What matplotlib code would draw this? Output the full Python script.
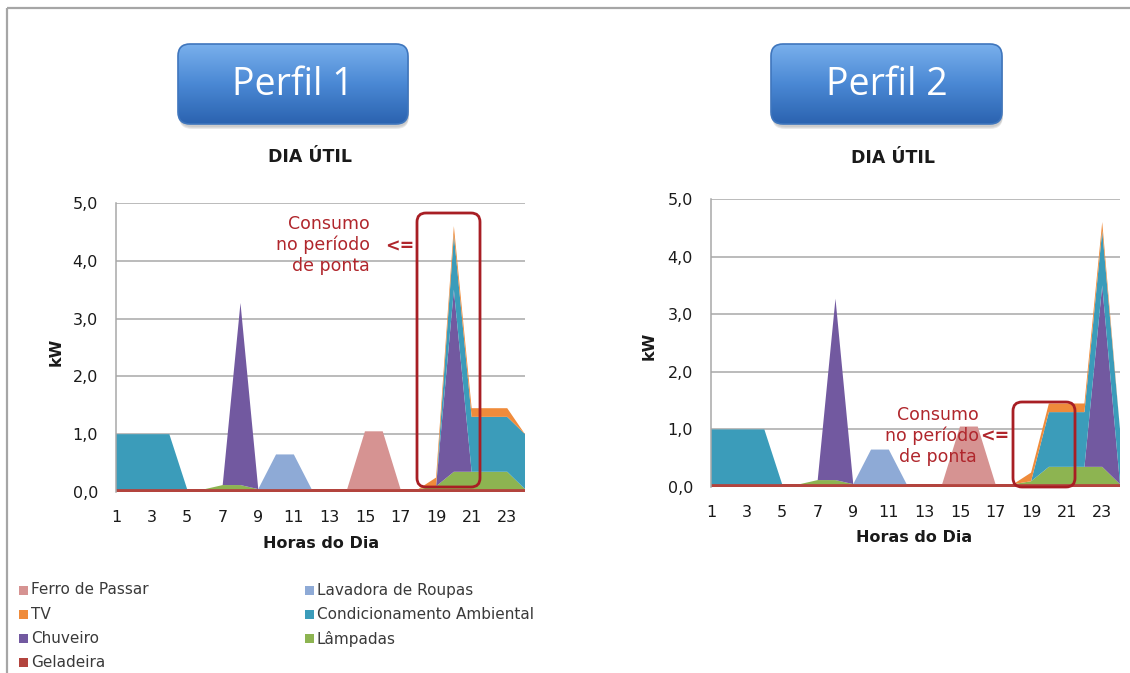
import numpy as np
import matplotlib.pyplot as plt
from matplotlib.patches import FancyBboxPatch, Rectangle
from matplotlib.colors import LinearSegmentedColormap

# hours of the day and axis labels
hours = list(range(1, 25))
hour_ticks = [1, 3, 5, 7, 9, 11, 13, 15, 17, 19, 21, 23]
kw_ticks = [0, 1, 2, 3, 4, 5]
kw_labels = ['0,0', '1,0', '2,0', '3,0', '4,0', '5,0']

# appliances, stacked bottom to top
names = ['Geladeira', 'Lâmpadas', 'Chuveiro', 'Condicionamento Ambiental',
         'TV', 'Lavadora de Roupas', 'Ferro de Passar']
colors = ['#b3443e', '#8db451', '#7259a0', '#3b9cba',
          '#ef8b3b', '#8eaad6', '#d69392']

# kW per hour (1..24), shared by both profiles
geladeira = [0.05, 0.05, 0.05, 0.05, 0.05, 0.05, 0.05, 0.05, 0.05, 0.05, 0.05, 0.05,
             0.05, 0.05, 0.05, 0.05, 0.05, 0.05, 0.05, 0.05, 0.05, 0.05, 0.05, 0.05]
lavadora = [0, 0, 0, 0, 0, 0, 0, 0, 0, 0.6, 0.6, 0,
            0, 0, 0, 0, 0, 0, 0, 0, 0, 0, 0, 0]
ferro = [0, 0, 0, 0, 0, 0, 0, 0, 0, 0, 0, 0,
         0, 0, 1.0, 1.0, 0, 0, 0, 0, 0, 0, 0, 0]

# perfil 1
lampadas_1 = [0, 0, 0, 0, 0, 0, 0.07, 0.07, 0, 0, 0, 0,
              0, 0, 0, 0, 0, 0, 0.05, 0.3, 0.3, 0.3, 0.3, 0]
chuveiro_1 = [0, 0, 0, 0, 0, 0, 0, 3.15, 0, 0, 0, 0,
              0, 0, 0, 0, 0, 0, 0, 3.15, 0, 0, 0, 0]
condic_1 = [0.95, 0.95, 0.95, 0.95, 0, 0, 0, 0, 0, 0, 0, 0,
            0, 0, 0, 0, 0, 0, 0, 0.95, 0.95, 0.95, 0.95, 0.95]
tv_1 = [0, 0, 0, 0, 0, 0, 0, 0, 0, 0, 0, 0,
        0, 0, 0, 0, 0, 0, 0.15, 0.15, 0.15, 0.15, 0.15, 0]

# perfil 2
lampadas_2 = [0, 0, 0, 0, 0, 0, 0.07, 0.07, 0, 0, 0, 0,
              0, 0, 0, 0, 0, 0, 0.05, 0.3, 0.3, 0.3, 0.3, 0]
chuveiro_2 = [0, 0, 0, 0, 0, 0, 0, 3.15, 0, 0, 0, 0,
              0, 0, 0, 0, 0, 0, 0, 0, 0, 0, 3.15, 0]
condic_2 = [0.95, 0.95, 0.95, 0.95, 0, 0, 0, 0, 0, 0, 0, 0,
            0, 0, 0, 0, 0, 0, 0, 0.95, 0.95, 0.95, 0.95, 0.95]
tv_2 = [0, 0, 0, 0, 0, 0, 0, 0, 0, 0, 0, 0,
        0, 0, 0, 0, 0, 0, 0.15, 0.15, 0.15, 0.15, 0.15, 0]

legend_rows = [('Ferro de Passar', 'Lavadora de Roupas'),
               ('TV', 'Condicionamento Ambiental'),
               ('Chuveiro', 'Lâmpadas'),
               ('Geladeira', None)]

W, H = 1130, 673
GRID = '#a8a8a8'
RED = '#b0262c'
TXT = '#1a1a1a'

plt.rcParams['font.family'] = ['DejaVu Sans']

fig = plt.figure(figsize=(W / 100, H / 100), dpi=100)


def px_axes(x0, y0, x1, y1):
    # axes box given in pixel coordinates (y measured from top)
    return fig.add_axes([x0 / W, (H - y1) / H, (x1 - x0) / W, (y1 - y0) / H])


def draw_chart(ax, series):
    ax.stackplot(hours, *series, colors=colors, linewidth=0, zorder=2)
    ax.set_xlim(1, 24)
    ax.set_ylim(0, 5)
    ax.set_xticks(hour_ticks)
    ax.set_yticks(kw_ticks)
    ax.set_yticklabels(kw_labels)
    ax.grid(axis='y', color=GRID, linewidth=1.1, zorder=0)
    ax.set_axisbelow(True)
    for side in ['top', 'right', 'bottom']:
        ax.spines[side].set_visible(False)
    ax.spines['left'].set_color(GRID)
    ax.spines['left'].set_linewidth(1.1)
    ax.tick_params(axis='both', length=0, labelsize=11.5, labelcolor=TXT)
    ax.tick_params(axis='y', pad=13)
    ax.tick_params(axis='x', pad=13)


ax1 = px_axes(116, 203, 525, 492)
draw_chart(ax1, [geladeira, lampadas_1, chuveiro_1, condic_1, tv_1, lavadora, ferro])

ax2 = px_axes(711, 199, 1120, 487)
draw_chart(ax2, [geladeira, lampadas_2, chuveiro_2, condic_2, tv_2, lavadora, ferro])

# overlay in pixel coordinates for titles, notes and legend
ov = fig.add_axes([0, 0, 1, 1], zorder=10)
ov.patch.set_alpha(0)
ov.axis('off')

# page frame
ov.plot([7, W], [8, 8], color='#a6a6a6', linewidth=1.6, solid_capstyle='butt')
ov.plot([7, 7], [8, H], color='#a6a6a6', linewidth=1.6, solid_capstyle='butt')

btn_cmap = LinearSegmentedColormap.from_list('btn', ['#79b0ec', '#4a88d4', '#2b63b0'])
grad = np.linspace(0, 1, 200).reshape(-1, 1)


def draw_button(x0, y0, w, h, label):
    for i, a in enumerate([0.10, 0.10, 0.12]):
        sh = FancyBboxPatch((x0 + 1, y0 + 3 + i), w, h,
                            boxstyle='round,pad=0,rounding_size=13',
                            facecolor='#555555', edgecolor='none', alpha=a, zorder=1)
        ov.add_patch(sh)
    box = FancyBboxPatch((x0, y0), w, h, boxstyle='round,pad=0,rounding_size=12',
                         facecolor='none', edgecolor='#3f76bd', linewidth=1.2, zorder=3)
    ov.add_patch(box)
    im = ov.imshow(grad, extent=(x0, x0 + w, y0 + h, y0), cmap=btn_cmap,
                   aspect='auto', zorder=2, interpolation='bilinear')
    im.set_clip_path(box)
    ov.text(x0 + w / 2, y0 + h / 2 + 1, label, color='white', fontsize=27,
            family='Open Sans', ha='center', va='center', zorder=4)


draw_button(178, 44, 230, 80, 'Perfil 1')
draw_button(771, 44, 231, 80, 'Perfil 2')

title_kw = dict(fontsize=12.5, fontweight='bold', color=TXT, ha='center', va='center')
ov.text(310, 157, 'DIA ÚTIL', **title_kw)
ov.text(893, 158, 'DIA ÚTIL', **title_kw)

lab_kw = dict(fontsize=11.5, fontweight='bold', color=TXT, ha='center', va='center')
ov.text(321, 543, 'Horas do Dia', **lab_kw)
ov.text(914, 538, 'Horas do Dia', **lab_kw)
ov.text(56, 352, 'kW', rotation=90, **lab_kw)
ov.text(649, 346, 'kW', rotation=90, **lab_kw)

# peak period notes
note_kw = dict(fontsize=12.5, color=RED, va='center')
ov.text(370, 224, 'Consumo', ha='right', **note_kw)
ov.text(370, 245, 'no período', ha='right', **note_kw)
ov.text(370, 266, 'de ponta', ha='right', **note_kw)
ov.text(400, 247, '<=', ha='center', fontweight='bold', **note_kw)
ov.add_patch(FancyBboxPatch((417, 213), 63, 274, boxstyle='round,pad=0,rounding_size=9',
                            facecolor='none', edgecolor='#a81e24', linewidth=2.0, zorder=5))

ov.text(938, 415, 'Consumo', ha='center', **note_kw)
ov.text(979, 436, 'no período', ha='right', **note_kw)
ov.text(980, 437, '<=', ha='left', fontweight='bold', **note_kw)
ov.text(938, 457, 'de ponta', ha='center', **note_kw)
ov.add_patch(FancyBboxPatch((1013, 402), 62, 85, boxstyle='round,pad=0,rounding_size=9',
                            facecolor='none', edgecolor='#a81e24', linewidth=2.0, zorder=5))

# legend
color_of = dict(zip(names, colors))
for row, pair in enumerate(legend_rows):
    y = 590 + row * 24.3
    for col, name in enumerate(pair):
        if name is None:
            continue
        x = 19 if col == 0 else 305
        ov.add_patch(Rectangle((x, y - 4.5), 9, 9, facecolor=color_of[name],
                               edgecolor='none'))
        ov.text(x + 12, y, name, fontsize=11, color='#3a3a3a', va='center', ha='left')

ov.set_xlim(0, W)
ov.set_ylim(H, 0)

fig.savefig('out.png', dpi=100)
